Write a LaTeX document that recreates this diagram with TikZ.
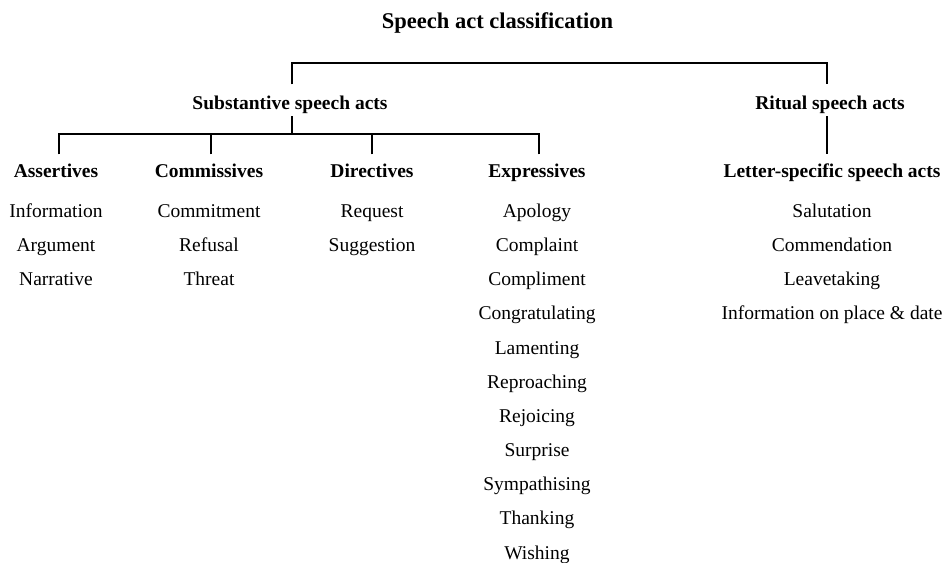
\documentclass[tikz,border=0pt]{standalone}
\usepackage{fontspec}
\setmainfont{Liberation Serif}
\begin{document}
\begin{tikzpicture}[x=1pt,y=-1pt,
  item/.style={anchor=base,inner sep=0pt,font=\fontsize{19.5}{23}\selectfont},
  cat/.style={anchor=base,inner sep=0pt,font=\fontsize{19.5}{23}\selectfont\bfseries},
  ttl/.style={anchor=base,inner sep=0pt,font=\fontsize{22.5}{27}\selectfont\bfseries},
  conn/.style={line width=1.2pt}]
\path[use as bounding box] (0,0) rectangle (942,562);
\node[ttl] (title) at (497.5,28) {Speech act classification};
\node[cat] (sub) at (290,109) {Substantive speech acts};
\node[cat] (rit) at (830,109) {Ritual speech acts};
\node[cat] (ass) at (56,177) {Assertives};
\node[cat] (com) at (209,177) {Commissives};
\node[cat] (dir) at (372,177) {Directives};
\node[cat] (exp) at (537,177) {Expressives};
\node[cat] (let) at (832,177) {Letter-specific speech acts};
% items
\foreach \t [count=\i] in {Information,Argument,Narrative}
  \node[item] (a\i) at (56,{183.35+34.15*\i}) {\t};
\foreach \t [count=\i] in {Commitment,Refusal,Threat}
  \node[item] (c\i) at (209,{183.35+34.15*\i}) {\t};
\foreach \t [count=\i] in {Request,Suggestion}
  \node[item] (d\i) at (372,{183.35+34.15*\i}) {\t};
\foreach \t [count=\i] in {Apology,Complaint,Compliment,Congratulating,Lamenting,Reproaching,Rejoicing,Surprise,Sympathising,Thanking,Wishing}
  \node[item] (e\i) at (537,{183.35+34.15*\i}) {\t};
\foreach \t [count=\i] in {Salutation,Commendation,Leavetaking,Information on place \& date}
  \node[item] (l\i) at (832,{183.35+34.15*\i}) {\t};
% connectors
\coordinate (top) at (560,63);
\coordinate (hub) at (292,134);
\draw[conn] ([xshift=2pt,yshift=11pt]sub.north) |- (top) -| ([xshift=-3pt,yshift=11pt]rit.north);
\draw[conn] ([xshift=2pt,yshift=-3pt]sub.south) -- (hub);
\draw[conn] ([xshift=3pt,yshift=9pt]ass.north) |- (hub);
\draw[conn] ([xshift=2pt,yshift=9pt]com.north) |- (hub);
\draw[conn] ([xshift=0pt,yshift=9pt]dir.north) |- (hub);
\draw[conn] ([xshift=2pt,yshift=9pt]exp.north) |- (hub);
\draw[conn] ([xshift=-3pt,yshift=-3pt]rit.south) -- ([xshift=-5pt,yshift=9pt]let.north);
\end{tikzpicture}
\end{document}
